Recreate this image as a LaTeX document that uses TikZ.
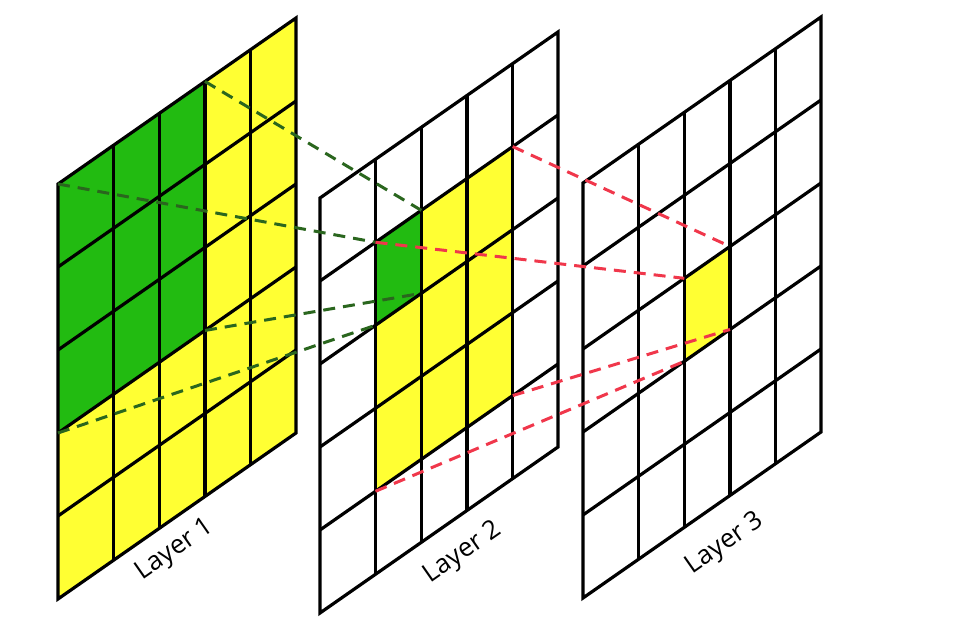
\documentclass[tikz,border=0pt]{standalone}
\usepackage{fontspec}
\newfontfamily\lblfont{Open Sans}
\definecolor{cellgreen}{RGB}{34,187,17}
\definecolor{cellyellow}{RGB}{255,255,51}
\definecolor{dashgreen}{RGB}{42,102,30}
\definecolor{dashred}{RGB}{240,55,75}
\begin{document}
\begin{tikzpicture}[x=1pt,y=1pt,
  gridline/.style={line width=3.2pt, black, line join=miter},
  greendash/.style={line width=3pt, dashgreen, dash pattern=on 12pt off 8pt},
  reddash/.style={line width=3pt, dashred, dash pattern=on 12pt off 8pt},
  lbl/.style={font=\lblfont\fontsize{26}{30}\selectfont, rotate=34.9, inner sep=0pt}]
\useasboundingbox (0,0) rectangle (957,620);
% grid coordinates
\foreach \L/\xo/\yo in {1/58/436, 2/320/422, 3/583/437} {
  \foreach \c [count=\i from 0] in {0,55.5,101.3,147,192.7,238} {
    \foreach \j in {0,...,5} {
      \coordinate (L\L-\i-\j) at ({\xo+\c},{\yo+0.6975*\c-83*\j});
    }
  }
}
% fills
\fill[cellyellow] (L1-0-0) -- (L1-5-0) -- (L1-5-5) -- (L1-0-5) -- cycle;
\fill[cellgreen] (L1-0-0) -- (L1-3-0) -- (L1-3-3) -- (L1-0-3) -- cycle;
\fill[cellyellow] (L2-1-1) -- (L2-4-1) -- (L2-4-4) -- (L2-1-4) -- cycle;
\fill[cellgreen] (L2-1-1) -- (L2-2-1) -- (L2-2-2) -- (L2-1-2) -- cycle;
\fill[cellyellow] (L3-2-2) -- (L3-3-2) -- (L3-3-3) -- (L3-2-3) -- cycle;
% grid lines
\foreach \L in {1,2,3} {
  \foreach \i in {1,...,4} \draw[gridline] (L\L-\i-0) -- (L\L-\i-5);
  \foreach \j in {1,...,4} \draw[gridline] (L\L-0-\j) -- (L\L-5-\j);
  \draw[gridline] (L\L-0-0) -- (L\L-5-0) -- (L\L-5-5) -- (L\L-0-5) -- cycle;
}
% connectors layer 1 -> layer 2
\draw[greendash] (L1-3-0) -- (L2-2-1);
\draw[greendash] (L1-0-0) -- (L2-1-1);
\draw[greendash] (L1-3-3) -- (L2-2-2);
\draw[greendash] (L1-0-3) -- (L2-1-2);
% connectors layer 2 -> layer 3
\draw[reddash] (L2-4-1) -- (L3-3-2);
\draw[reddash] (L2-1-1) -- (L3-2-2);
\draw[reddash] (L2-4-4) -- (L3-3-3);
\draw[reddash] (L2-1-4) -- (L3-2-3);
% labels
\node[lbl] (lab1) at (175,70) {Layer 1};
\node[lbl] (lab2) at (463,67) {Layer 2};
\node[lbl] (lab3) at (725,76) {Layer 3};
\end{tikzpicture}
\end{document}
